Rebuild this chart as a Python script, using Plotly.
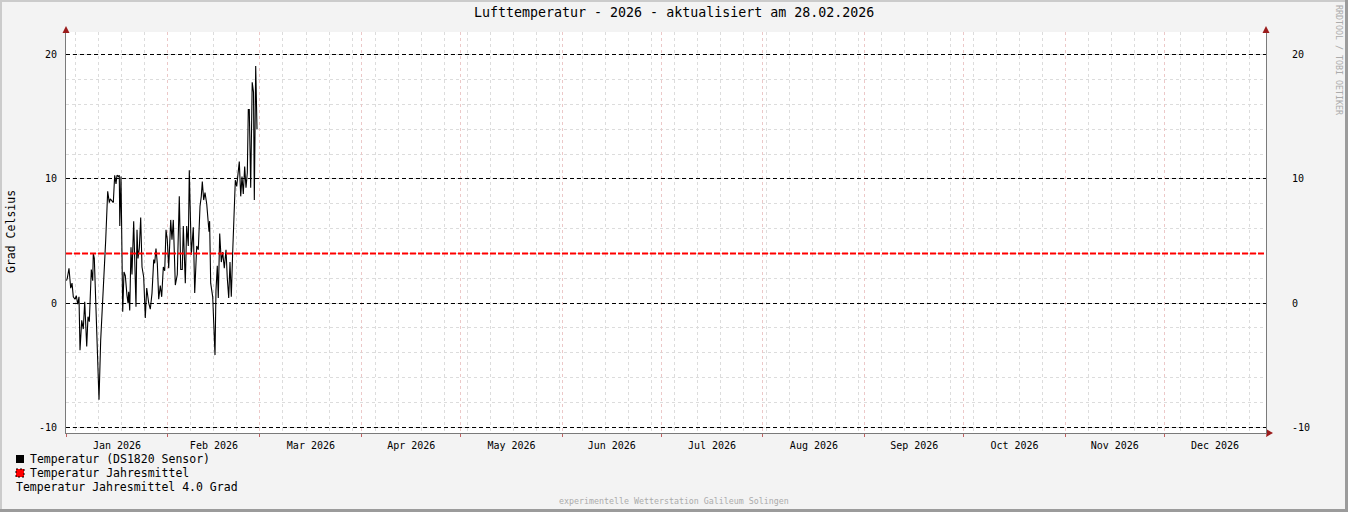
import plotly.graph_objects as go
import pandas as pd

# ---------------- data ----------------
start_date = "2026-01-01"
end_date = "2027-01-01"

# days since 1 Jan 2026 (fractional) and air temperature in °C
day_offsets = [
    0.15, 0.40, 0.91, 1.43, 1.83, 2.22, 2.74, 3.13, 3.56, 3.95,
    4.26, 4.78, 5.26, 5.69, 6.30, 6.69, 7.09, 7.70, 8.12, 8.30,
    8.61, 10.04, 10.55, 11.25, 12.08, 12.68, 13.17, 13.47, 14.39, 14.81,
    15.21, 15.51, 15.91, 16.21, 16.36, 16.73, 17.25, 17.64, 18.04, 18.55,
    18.86, 19.07, 19.38, 19.77, 20.07, 20.59, 20.90, 21.29, 21.60, 21.90,
    22.30, 22.72, 23.12, 23.63, 24.12, 24.55, 25.15, 25.64, 26.16, 26.68,
    26.98, 27.37, 27.77, 28.20, 28.68, 29.11, 29.60, 30.02, 30.42, 30.81,
    31.24, 31.85, 32.24, 32.64, 33.25, 33.85, 34.46, 34.89, 35.37, 35.68,
    36.29, 36.71, 37.20, 37.50, 38.11, 38.72, 39.15, 39.76, 40.24, 40.76,
    41.15, 41.46, 41.88, 42.28, 42.80, 43.28, 43.50, 43.68, 44.01, 44.62,
    45.32, 45.62, 46.02, 46.32, 46.75, 47.24, 47.66, 48.15, 48.67, 49.06,
    49.49, 49.88, 50.28, 50.70, 51.10, 51.50, 51.92, 52.32, 52.71, 53.14,
    53.53, 53.93, 54.35, 54.75, 55.15, 55.45, 55.75, 56.18, 56.64, 57.03,
    57.28, 57.70, 58.10,
]
temperatures = [
    1.8, 2.0, 2.8, 1.2, 1.6, 0.5, 0.3, 0.6, -0.1, 0.5,
    -3.8, -1.4, -2.1, 0.1, -3.5, -1.1, -1.5, 2.7, 1.8, 4.0,
    3.6, -7.8, -3.0, 0.5, 5.1, 9.0, 8.1, 8.4, 8.1, 10.3,
    9.6, 10.3, 10.2, 10.3, 6.2, 10.2, -0.7, 2.5, 2.2, 0.6,
    0.0, 0.9, -0.6, 4.5, 2.3, 6.6, 2.9, -0.3, 5.9, 3.6,
    4.4, 6.9, 2.9, 2.1, -1.2, 1.2, 0.0, -0.5, 0.8, 3.5,
    3.2, 4.4, 3.2, 0.3, 1.4, 0.5, 2.9, 2.6, 5.9, 5.1,
    2.8, 6.7, 5.1, 6.7, 1.45, 2.3, 8.6, 2.7, 2.7, 6.2,
    1.6, 6.2, 4.6, 10.7, 3.9, 6.1, 0.8, 4.6, 4.3, 7.8,
    8.6, 9.8, 8.3, 8.9, 8.0, 6.7, 5.75, 6.6, 1.6, 0.5,
    -4.2, 1.0, 3.0, 0.4, 5.6, 3.3, 4.1, 2.8, 4.3, 2.0,
    0.4, 3.3, 0.5, 4.1, 7.2, 9.9, 9.4, 10.7, 11.4, 8.6,
    10.2, 8.8, 11.0, 9.3, 10.5, 15.6, 15.6, 9.3, 17.8, 17.0,
    8.3, 19.1, 14.0,
]
yearly_mean = 4.0
y_ticks = [-10, 0, 10, 20]

title_text = "Lufttemperatur - 2026 - aktualisiert am 28.02.2026"
y_title = "Grad Celsius"
legend_sensor = "Temperatur (DS1820 Sensor)"
legend_mean = "Temperatur Jahresmittel"
legend_mean_value = f"Temperatur Jahresmittel {yearly_mean:.1f} Grad"
watermark = "RRDTOOL / TOBI OETIKER"
footer = "experimentelle Wetterstation Galileum Solingen"

# ---------------- layout geometry ----------------
W, H = 1348, 512
L, R, T, B = 66, 1266, 32, 433  # plot area in pixels
FONT = "DejaVu Sans Mono"


def px(x):
    return (x - L) / (R - L)


def py(y):
    return (B - y) / (B - T)


times = pd.Timestamp(start_date) + pd.to_timedelta(day_offsets, unit="D")

fig = go.Figure()
fig.add_trace(go.Scatter(
    x=times, y=temperatures, mode="lines",
    line=dict(color="#000000", width=1.1), hoverinfo="x+y",
))
fig.add_trace(go.Scatter(
    x=[start_date, end_date], y=[yearly_mean, yearly_mean], mode="lines",
    line=dict(color="#ff0000", width=2, dash="6px,2px"), yaxis="y2",
))

yrange = [-10.48, 21.85]

fig.update_layout(
    width=W, height=H,
    margin=dict(l=L, r=W - R, t=T, b=H - B, pad=0),
    paper_bgcolor="#F3F3F3", plot_bgcolor="#FFFFFF",
    showlegend=False,
    font=dict(family=FONT, size=10, color="#000000"),
    xaxis=dict(
        type="date", range=[start_date, end_date],
        dtick="M1", tick0=start_date, ticklabelmode="period",
        tickformat="%b %Y", tickfont=dict(size=10, family=FONT),
        showgrid=True, gridcolor="#ecc8c8", griddash="dot", gridwidth=1,
        ticks="outside", ticklen=3, tickcolor="#c06060",
        showline=True, linecolor="#7a7a7a", linewidth=1,
        minor=dict(dtick=7 * 86400000, tick0="2026-01-04", showgrid=True,
                   gridcolor="#dcdcdc", griddash="dot", gridwidth=1),
        zeroline=False, fixedrange=True,
    ),
    yaxis=dict(
        range=yrange, tickvals=y_ticks, ticktext=[str(v) for v in y_ticks],
        showgrid=True, gridcolor="#000000", griddash="4px,3px", gridwidth=1,
        minor=dict(dtick=2, tick0=0, showgrid=True, gridcolor="#dcdcdc",
                   griddash="dot", gridwidth=1),
        showline=True, linecolor="#7a7a7a", linewidth=1,
        ticks="", ticklabelstandoff=6, zeroline=False,
        tickfont=dict(size=10, family=FONT),
    ),
    yaxis2=dict(
        range=yrange, tickvals=y_ticks, ticktext=[str(v) for v in y_ticks],
        overlaying="y", side="right", showgrid=False, zeroline=False,
        showline=True, linecolor="#7a7a7a", linewidth=1,
        ticks="", ticklabelstandoff=23, tickfont=dict(size=10, family=FONT),
    ),
)

shapes = []
# 3-D frame around the canvas
shapes.append(dict(type="rect", xref="paper", yref="paper", x0=px(0), x1=px(W), y0=py(0), y1=py(2),
                   fillcolor="#cbcbcb", line=dict(width=0), layer="above"))
shapes.append(dict(type="rect", xref="paper", yref="paper", x0=px(0), x1=px(2), y0=py(0), y1=py(H),
                   fillcolor="#cbcbcb", line=dict(width=0), layer="above"))
shapes.append(dict(type="rect", xref="paper", yref="paper", x0=px(0), x1=px(W), y0=py(H - 3), y1=py(H),
                   fillcolor="#9b9b9b", line=dict(width=0), layer="above"))
shapes.append(dict(type="rect", xref="paper", yref="paper", x0=px(W - 3), x1=px(W), y0=py(0), y1=py(H),
                   fillcolor="#9b9b9b", line=dict(width=0), layer="above"))
# axis arrows
arrow_col = "#9b1c1c"
for ax_x in (0, 1):
    shapes.append(dict(type="path", xref="paper", yref="paper", xsizemode="pixel", ysizemode="pixel",
                       xanchor=ax_x, yanchor=1, path="M -3.5,-1 L 3.5,-1 L 0,6 Z",
                       fillcolor=arrow_col, line=dict(width=0), layer="above"))
shapes.append(dict(type="path", xref="paper", yref="paper", xsizemode="pixel", ysizemode="pixel",
                   xanchor=1, yanchor=0, path="M 1,3.5 L 1,-3.5 L 7,0 Z",
                   fillcolor=arrow_col, line=dict(width=0), layer="above"))
# legend swatches
shapes.append(dict(type="rect", xref="paper", yref="paper", x0=px(16), x1=px(24), y0=py(455), y1=py(463),
                   fillcolor="#000000", line=dict(width=0)))
shapes.append(dict(type="rect", xref="paper", yref="paper", x0=px(16), x1=px(24), y0=py(469), y1=py(477),
                   fillcolor="#ff0000", line=dict(width=1, color="#000000", dash="2px,2px")))
fig.update_layout(shapes=shapes)

ann = []
ann.append(dict(text=title_text, x=px(W / 2), y=py(13), xref="paper", yref="paper",
                showarrow=False, xanchor="center", yanchor="middle",
                font=dict(family=FONT, size=13.3, color="#000000")))
ann.append(dict(text=y_title, x=px(11), y=py(232), xref="paper", yref="paper",
                showarrow=False, xanchor="center", yanchor="middle", textangle=-90,
                font=dict(family=FONT, size=11.5, color="#000000")))
ann.append(dict(text=watermark, x=px(1339), y=py(60), xref="paper", yref="paper",
                showarrow=False, xanchor="center", yanchor="middle", textangle=90,
                font=dict(family=FONT, size=8.3, color="#ababab")))
ann.append(dict(text=footer, x=px(W / 2), y=py(501), xref="paper", yref="paper",
                showarrow=False, xanchor="center", yanchor="middle",
                font=dict(family=FONT, size=8.3, color="#ababab")))
for txt, xx, yy in [(legend_sensor, 28, 459), (legend_mean, 28, 473), (legend_mean_value, 14, 487)]:
    ann.append(dict(text=txt, x=px(xx), y=py(yy), xref="paper", yref="paper",
                    showarrow=False, xanchor="left", yanchor="middle",
                    font=dict(family=FONT, size=11.5, color="#000000")))
fig.update_layout(annotations=ann)

fig.write_html(
    "out.html",
    include_plotlyjs=True,
    config={"displayModeBar": False},
    post_script="document.body.style.margin='0';document.body.style.overflow='hidden';",
)
